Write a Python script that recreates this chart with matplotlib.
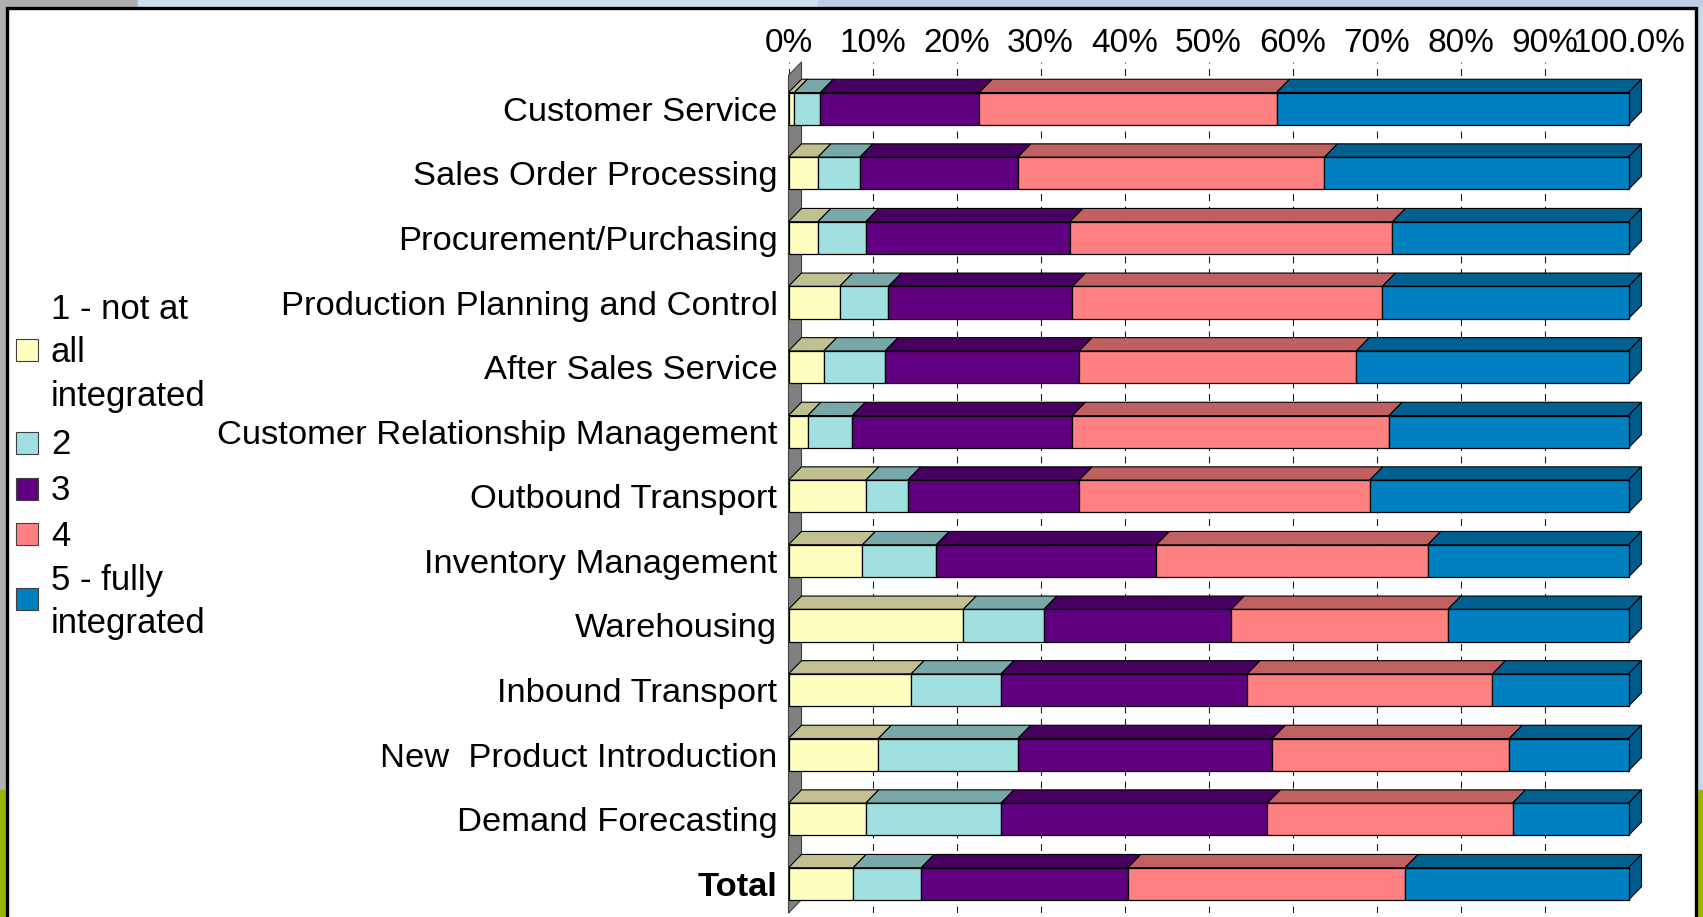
import numpy as np
import matplotlib
matplotlib.use("Agg")
import matplotlib.pyplot as plt
from matplotlib.patches import Polygon, Rectangle

plt.rcParams['font.family'] = ['Liberation Sans', 'DejaVu Sans']
plt.rcParams['lines.scale_dashes'] = False

# ---------------- data ----------------
categories = ["Customer Service", "Sales Order Processing", "Procurement/Purchasing",
              "Production Planning and Control", "After Sales Service",
              "Customer Relationship Management", "Outbound Transport",
              "Inventory Management", "Warehousing", "Inbound Transport",
              "New  Product Introduction", "Demand Forecasting", "Total"]
series_names = ["1 - not at\nall\nintegrated", "2", "3", "4", "5 - fully\nintegrated"]
s1 = [0.7, 3.5, 3.5, 6.1, 4.2, 2.3, 9.2, 8.8, 20.8, 14.6, 10.7, 9.2, 7.7]
s2 = [3.1, 5.0, 5.7, 5.8, 7.3, 5.3, 5.0, 8.8, 9.6, 10.7, 16.6, 16.1, 8.1]
s3 = [18.9, 18.8, 24.3, 21.9, 23.1, 26.2, 20.4, 26.2, 22.3, 29.3, 30.3, 31.7, 24.6]
s4 = [35.4, 36.5, 38.4, 36.9, 33.0, 37.7, 34.6, 32.3, 25.8, 29.2, 28.2, 29.2, 33.0]
s5 = [41.9, 36.2, 28.1, 29.3, 32.4, 28.5, 30.8, 23.9, 21.5, 16.2, 14.2, 13.8, 26.6]
tick_values = [0, 10, 20, 30, 40, 50, 60, 70, 80, 90, 100]
tick_labels = ["0%", "10%", "20%", "30%", "40%", "50%", "60%", "70%", "80%", "90%", "100.0%"]

front_colors = ["#FFFFC0", "#A0E0E0", "#600080", "#FF8080", "#0080C0"]
top_colors = ["#C0C090", "#78A8A8", "#480060", "#C06060", "#006090"]
side_color = "#005A8A"

W, H = 1703, 917
fig = plt.figure(figsize=(W / 100, H / 100), dpi=100)
fig.patch.set_facecolor("white")

def fx(px):
    return px / W

def fy(py):
    return 1 - py / H

# screenshot surroundings
fig.patches.append(Rectangle((0, fy(7)), fx(138), 7 / H, transform=fig.transFigure, color="#B0B0B0", zorder=0))
fig.patches.append(Rectangle((fx(138), fy(7)), fx(680), 7 / H, transform=fig.transFigure, color="#CCE0EE", zorder=0))
fig.patches.append(Rectangle((fx(818), fy(7)), fx(885), 7 / H, transform=fig.transFigure, color="#BCCFE6", zorder=0))
fig.patches.append(Rectangle((0, fy(790)), fx(6), 783 / H, transform=fig.transFigure, color="#B0B0B0", zorder=0))
fig.patches.append(Rectangle((0, 0), fx(6), 127 / H, transform=fig.transFigure, color="#9AB400", zorder=0))
fig.patches.append(Rectangle((fx(1697), fy(790)), fx(6), 783 / H, transform=fig.transFigure, color="#C8D8EC", zorder=0))
fig.patches.append(Rectangle((fx(1697), 0), fx(6), 127 / H, transform=fig.transFigure, color="#9AB400", zorder=0))
# chart frame
fig.patches.append(Rectangle((fx(7.5), -0.05), fx(1688), fy(8) + 0.05, transform=fig.transFigure,
                             fill=False, edgecolor="black", linewidth=2.4, zorder=1))

# ---------------- axes ----------------
ax_left, ax_right = 788.5, 1628.5
ax_top, ax_bot = 62, 913
ax = fig.add_axes([fx(ax_left), fy(ax_bot), (ax_right - ax_left) / W, (ax_bot - ax_top) / H])
ax.set_facecolor("none")
n = len(categories)
row_px = 64.6
first_px = 108.7
ax.set_xlim(0, 100)
ax.set_ylim((ax_bot - first_px) / row_px, (ax_top - first_px) / row_px)
for s in ax.spines.values():
    s.set_visible(False)

# depth offset in data units (13 px right, 13 px up)
p0 = ax.transData.transform((0, 0))
inv = ax.transData.inverted()
ddx, ddy_neg = inv.transform(p0 + np.array([13.0, 13.3]))
ddy = -ddy_neg  # positive amount in data units (axis inverted)

ylo, yhi = ax.get_ylim()  # ylo = bottom (large), yhi = top (small)
# left wall
wall = Polygon([(0, ylo), (ddx, ylo - ddy), (ddx, yhi), (0, yhi + ddy)], closed=True,
               facecolor="#808080", edgecolor="#404040", linewidth=0.8, zorder=1, clip_on=False)
ax.add_patch(wall)

# gridlines
ax.set_xticks(tick_values)
ax.set_xticklabels(tick_labels)
ax.grid(axis="x", color="#202020", linestyle=(0, (5, 4)), linewidth=0.8, zorder=0)
ax.set_axisbelow(True)
ax.xaxis.tick_top()
ax.tick_params(axis="x", length=0, pad=2.5, labelsize=24)

# bars
data = np.array([s1, s2, s3, s4, s5], dtype=float)
data = data / data.sum(axis=0) * 100
y = np.arange(n)
h = 0.5
left = np.zeros(n)
for j in range(data.shape[0]):
    vals = data[j]
    ax.barh(y, vals, left=left, height=h, color=front_colors[j], edgecolor="black",
            linewidth=0.9, zorder=3, clip_on=False, label=series_names[j])
    for i in range(n):
        l, r = left[i], left[i] + vals[i]
        yt = y[i] - h / 2
        top = Polygon([(l, yt), (r, yt), (r + ddx, yt - ddy), (l + ddx, yt - ddy)], closed=True,
                      facecolor=top_colors[j], edgecolor="black", linewidth=0.8, zorder=2, clip_on=False)
        ax.add_patch(top)
        if j == data.shape[0] - 1:
            yb = y[i] + h / 2
            side = Polygon([(r, yt), (r, yb), (r + ddx, yb - ddy), (r + ddx, yt - ddy)], closed=True,
                           facecolor=side_color, edgecolor="black", linewidth=0.8, zorder=2, clip_on=False)
            ax.add_patch(side)
    left = left + vals

ax.set_yticks(y)
ax.set_yticklabels(categories)
ax.tick_params(axis="y", length=0, pad=8, labelsize=24.8)
for lab in ax.get_yticklabels():
    if lab.get_text() == "Total":
        lab.set_fontweight("bold")

# legend (manual)
leg_sq = [350, 443, 489, 534, 599]
leg_txt = [353, 445, 491, 536, 602]
for j in range(len(series_names)):
    fig.patches.append(Rectangle((fx(16), fy(leg_sq[j] + 11)), 22 / W, 22 / H, transform=fig.transFigure,
                                 facecolor=front_colors[j], edgecolor="#404040", linewidth=0.8, zorder=3))
    fig.text(fx(51), fy(leg_txt[j]), series_names[j], fontsize=25, va="center", ha="left",
             linespacing=1.42)

fig.savefig("out.png", dpi=100)
